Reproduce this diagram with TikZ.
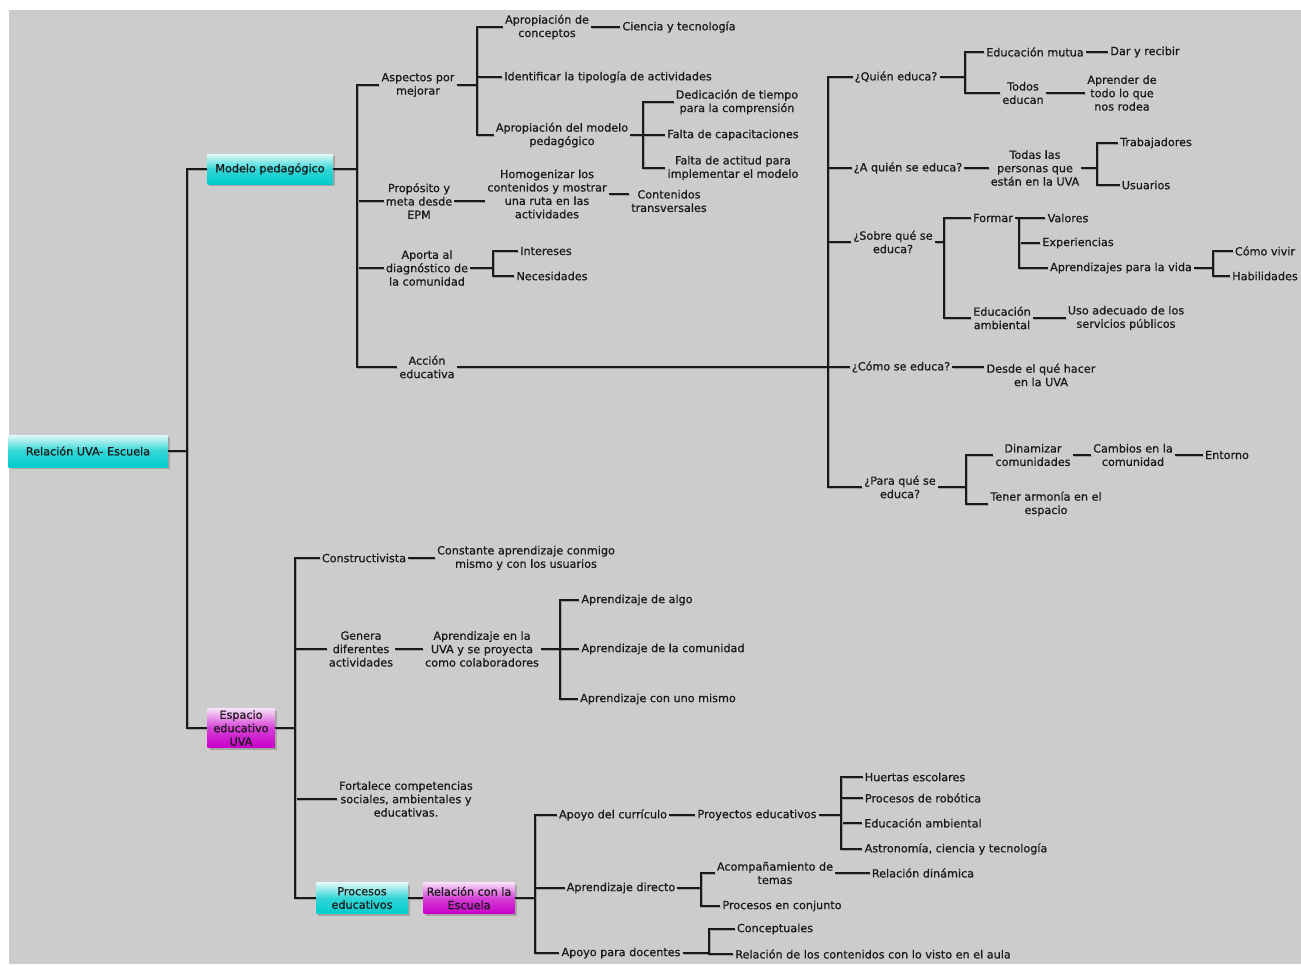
\documentclass[tikz,border=0pt]{standalone}
\usepackage{fontspec}
\setmainfont{DejaVu Sans}[FakeBold=0.7]
\usepackage{tikz}
\usetikzlibrary{shadows}
\usepackage{xcolor}
\definecolor{mapgray}{RGB}{204,204,204}
\definecolor{mapcyan}{RGB}{0,204,204}
\definecolor{mapmagenta}{RGB}{200,0,200}

\begin{document}
\begin{tikzpicture}[x=1pt,y=-1pt,
    txt/.style={font=\fontsize{11.2}{13.4}\selectfont, text=black!90, align=center, inner sep=2pt},
    topic/.style={txt, inner sep=1pt, drop shadow={shadow xshift=2pt, shadow yshift=-2pt, fill=black!50, opacity=0.5}},
    cyanbox/.style={topic, top color=mapcyan!12, bottom color=mapcyan, middle color=mapcyan!80},
    magbox/.style={topic, top color=mapmagenta!12, bottom color=mapmagenta, middle color=mapmagenta!75},
    link/.style={line width=1.8pt, black!90, preaction={draw=gray!75, line width=1.8pt, transform canvas={shift={(1pt,-1.5pt)}}}}
]
% Background
\useasboundingbox (0,0) rectangle (1301,964);
\fill[mapgray] (9,10) rectangle (1301,964);

% Bars of the brackets
\coordinate (b0) at (187,0);
\coordinate (bM) at (357,0);
\coordinate (bA) at (477,0);
\coordinate (bP) at (643,0);
\coordinate (bD) at (493,0);
\coordinate (bQ) at (828,0);
\coordinate (bQu) at (965,0);
\coordinate (bT) at (1097,0);
\coordinate (bS) at (944,0);
\coordinate (bF) at (1019,0);
\coordinate (bV) at (1213,0);
\coordinate (bPa) at (966,0);
\coordinate (bE) at (295,0);
\coordinate (bG) at (560,0);
\coordinate (bR) at (535,0);
\coordinate (bY) at (841,0);
\coordinate (bAd) at (701,0);
\coordinate (bAp) at (709,0);

% Main topics
\node[cyanbox, minimum width=159, minimum height=32] (root) at (88,451) {Relación UVA- Escuela};
\node[cyanbox, minimum width=125, minimum height=30] (mod) at (270,169) {Modelo pedagógico};
\node[magbox, minimum width=67, minimum height=39] (esp) at (241,728) {Espacio\\educativo\\UVA};

% Modelo pedagogico
\node[txt] (asp) at (418,85) {Aspectos por\\mejorar};
\node[txt] (prop) at (419,201) {Propósito y\\meta desde\\EPM};
\node[txt] (apor) at (427,268) {Aporta al\\diagnóstico de\\la comunidad};
\node[txt] (acc) at (427,367) {Acción\\educativa};
\node[txt] (conc) at (547,27) {Apropiación de\\conceptos};
\node[txt] (cien) at (679,27) {Ciencia y tecnología};
\node[txt] (tipo) at (608,77) {Identificar la tipología de actividades};
\node[txt] (apm) at (562,135) {Apropiación del modelo\\pedagógico};
\node[txt] (dedi) at (737,102) {Dedicación de tiempo\\para la comprensión};
\node[txt] (capa) at (733,135) {Falta de capacitaciones};
\node[txt] (acti) at (733,168) {Falta de actitud para\\implementar el modelo};
\node[txt] (homo) at (547,194) {Homogenizar los\\contenidos y mostrar\\una ruta en las\\actividades};
\node[txt] (trans) at (669,201) {Contenidos\\transversales};
\node[txt] (inte) at (546,251) {Intereses};
\node[txt] (nece) at (552,276) {Necesidades};

% Preguntas
\node[txt] (quien) at (896,77) {¿Quién educa?};
\node[txt] (aquien) at (908,168) {¿A quién se educa?};
\node[txt] (sobre) at (893,242) {¿Sobre qué se\\educa?};
\node[txt] (como) at (901,367) {¿Cómo se educa?};
\node[txt] (para) at (900,487) {¿Para qué se\\educa?};
\node[txt] (mutua) at (1035,52) {Educación mutua};
\node[txt] (dar) at (1145,52) {Dar y recibir};
\node[txt] (todos) at (1023,93) {Todos\\educan};
\node[txt] (apren) at (1122,93) {Aprender de\\todo lo que\\nos rodea};
\node[txt] (pers) at (1035,168) {Todas las\\personas que\\están en la UVA};
\node[txt] (trab) at (1156,143) {Trabajadores};
\node[txt] (usua) at (1146,185) {Usuarios};
\node[txt] (form) at (993,218) {Formar};
\node[txt] (valo) at (1068,218) {Valores};
\node[txt] (expe) at (1078,243) {Experiencias};
\node[txt] (vida) at (1121,268) {Aprendizajes para la vida};
\node[txt] (vivir) at (1265,251) {Cómo vivir};
\node[txt] (habi) at (1265,276) {Habilidades};
\node[txt] (eamb) at (1002,318) {Educación\\ambiental};
\node[txt] (serv) at (1126,318) {Uso adecuado de los\\servicios públicos};
\node[txt] (desde) at (1041,375) {Desde el qué hacer\\en la UVA};
\node[txt] (dina) at (1033,455) {Dinamizar\\comunidades};
\node[txt] (camb) at (1133,455) {Cambios en la\\comunidad};
\node[txt] (ento) at (1227,455) {Entorno};
\node[txt] (arm) at (1046,504) {Tener armonía en el\\espacio};

% Espacio educativo
\node[txt] (cons) at (364,558) {Constructivista};
\node[txt] (const) at (526,558) {Constante aprendizaje conmigo\\mismo y con los usuarios};
\node[txt] (gene) at (361,649) {Genera\\diferentes\\actividades};
\node[txt] (uva) at (482,649) {Aprendizaje en la\\UVA y se proyecta\\como colaboradores};
\node[txt] (algo) at (637,600) {Aprendizaje de algo};
\node[txt] (comu) at (663,649) {Aprendizaje de la comunidad};
\node[txt] (mismo) at (658,699) {Aprendizaje con uno mismo};
\node[txt] (fort) at (406,799) {Fortalece competencias\\sociales, ambientales y\\educativas.};
\node[cyanbox, minimum width=92, minimum height=31] (proc) at (362,898) {Procesos\\educativos};
\node[magbox, minimum width=91, minimum height=31] (rel) at (469,898) {Relación con la\\Escuela};
\node[txt] (curr) at (613,815) {Apoyo del currículo};
\node[txt] (proy) at (757,815) {Proyectos educativos};
\node[txt] (huer) at (915,777) {Huertas escolares};
\node[txt] (robo) at (923,798) {Procesos de robótica};
\node[txt] (eamb2) at (923,823) {Educación ambiental};
\node[txt] (astro) at (956,849) {Astronomía, ciencia y tecnología};
\node[txt] (dire) at (621,888) {Aprendizaje directo};
\node[txt] (acom) at (775,873) {Acompañamiento de\\temas};
\node[txt] (rdin) at (923,873) {Relación dinámica};
\node[txt] (conj) at (782,906) {Procesos en conjunto};
\node[txt] (doce) at (621,953) {Apoyo para docentes};
\node[txt] (conce) at (775,929) {Conceptuales};
\node[txt] (aula) at (873,954) {Relación de los contenidos con lo visto en el aula};

% Brackets
\foreach \c in {mod,esp} {
    \draw[link] (root.east) -- (root.east -| b0) |- (\c.west);
}
\foreach \c in {asp,prop,apor,acc} {
    \draw[link] (mod.east) -- (mod.east -| bM) |- (\c.west);
}
\foreach \c in {conc,tipo,apm} {
    \draw[link] (asp.east) -- (asp.east -| bA) |- (\c.west);
}
\foreach \c in {dedi,capa,acti} {
    \draw[link] (apm.east) -- (apm.east -| bP) |- (\c.west);
}
\foreach \c in {inte,nece} {
    \draw[link] (apor.east) -- (apor.east -| bD) |- (\c.west);
}
\foreach \c in {quien,aquien,sobre,como,para} {
    \draw[link] (acc.east) -- (acc.east -| bQ) |- (\c.west);
}
\foreach \c in {mutua,todos} {
    \draw[link] (quien.east) -- (quien.east -| bQu) |- (\c.west);
}
\foreach \c in {trab,usua} {
    \draw[link] (pers.east) -- (pers.east -| bT) |- (\c.west);
}
\foreach \c in {form,eamb} {
    \draw[link] (sobre.east) -- (sobre.east -| bS) |- (\c.west);
}
\foreach \c in {valo,expe,vida} {
    \draw[link] (form.east) -- (form.east -| bF) |- (\c.west);
}
\foreach \c in {vivir,habi} {
    \draw[link] (vida.east) -- (vida.east -| bV) |- (\c.west);
}
\foreach \c in {dina,arm} {
    \draw[link] (para.east) -- (para.east -| bPa) |- (\c.west);
}
\foreach \c in {cons,gene,fort,proc} {
    \draw[link] (esp.east) -- (esp.east -| bE) |- (\c.west);
}
\foreach \c in {algo,comu,mismo} {
    \draw[link] (uva.east) -- (uva.east -| bG) |- (\c.west);
}
\foreach \c in {curr,dire,doce} {
    \draw[link] (rel.east) -- (rel.east -| bR) |- (\c.west);
}
\foreach \c in {huer,robo,eamb2,astro} {
    \draw[link] (proy.east) -- (proy.east -| bY) |- (\c.west);
}
\foreach \c in {acom,conj} {
    \draw[link] (dire.east) -- (dire.east -| bAd) |- (\c.west);
}
\foreach \c in {conce,aula} {
    \draw[link] (doce.east) -- (doce.east -| bAp) |- (\c.west);
}

% Single links
\foreach \a/\b in {conc/cien,prop/homo,homo/trans,mutua/dar,todos/apren,aquien/pers,
    eamb/serv,como/desde,dina/camb,camb/ento,cons/const,gene/uva,proc/rel,curr/proy,acom/rdin} {
    \draw[link] (\a.east) -- (\a.east -| \b.west);
}

\end{tikzpicture}
\end{document}
